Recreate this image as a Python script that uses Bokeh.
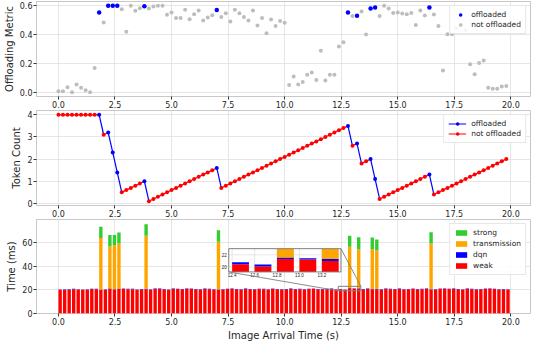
from bokeh.plotting import figure
from bokeh.layouts import column
from bokeh.models import (ColumnDataSource, Range1d, FixedTicker, PrintfTickFormatter,
                          Legend, LegendItem)
from bokeh.embed import file_html
from bokeh.resources import INLINE

# ---------------- data ----------------
times = [0.0, 0.2, 0.4, 0.6, 0.8, 1.0, 1.2, 1.4, 1.6, 1.8,
         2.0, 2.2, 2.4, 2.6, 2.8, 3.0, 3.2, 3.4, 3.6, 3.8,
         4.0, 4.2, 4.4, 4.6, 4.8, 5.0, 5.2, 5.4, 5.6, 5.8,
         6.0, 6.2, 6.4, 6.6, 6.8, 7.0, 7.2, 7.4, 7.6, 7.8,
         8.0, 8.2, 8.4, 8.6, 8.8, 9.0, 9.2, 9.4, 9.6, 9.8,
         10.0, 10.2, 10.4, 10.6, 10.8, 11.0, 11.2, 11.4, 11.6, 11.8,
         12.0, 12.2, 12.4, 12.6, 12.8, 13.0, 13.2, 13.4, 13.6, 13.8,
         14.0, 14.2, 14.4, 14.6, 14.8, 15.0, 15.2, 15.4, 15.6, 15.8,
         16.0, 16.2, 16.4, 16.6, 16.8, 17.0, 17.2, 17.4, 17.6, 17.8,
         18.0, 18.2, 18.4, 18.6, 18.8, 19.0, 19.2, 19.4, 19.6, 19.8]

offloaded_times = [1.8, 2.2, 2.4, 2.6, 3.8, 7.0, 12.8, 13.2, 13.8, 14.0, 16.4]

metric = [0.011, 0.011, 0.038, 0.004, 0.057, 0.034, 0.017, 0.004, 0.170, 0.553,
          0.483, 0.598, 0.598, 0.598, 0.574, 0.419, 0.598, 0.564, 0.581, 0.596,
          0.579, 0.594, 0.598, 0.598, 0.536, 0.553, 0.515, 0.515, 0.572, 0.506,
          0.540, 0.566, 0.498, 0.517, 0.534, 0.570, 0.521, 0.547, 0.491, 0.572,
          0.547, 0.521, 0.498, 0.566, 0.462, 0.515, 0.409, 0.504, 0.460, 0.494,
          0.481, 0.053, 0.111, 0.057, 0.074, 0.123, 0.140, 0.087, 0.289, 0.085,
          0.123, 0.123, 0.319, 0.347, 0.553, 0.528, 0.530, 0.560, 0.400, 0.579,
          0.587, 0.528, 0.598, 0.579, 0.549, 0.553, 0.545, 0.540, 0.549, 0.466,
          0.566, 0.532, 0.587, 0.538, 0.460, 0.153, 0.402, 0.402, 0.443, 0.468,
          0.430, 0.196, 0.128, 0.204, 0.221, 0.034, 0.028, 0.028, 0.043, 0.047]

tokens = [4.0, 4.0, 4.0, 4.0, 4.0, 4.0, 4.0, 4.0, 4.0, 4.0,
          3.1, 3.2, 2.3, 1.4, 0.5, 0.6, 0.7, 0.8, 0.9, 1.0,
          0.1, 0.2, 0.3, 0.4, 0.5, 0.6, 0.7, 0.8, 0.9, 1.0,
          1.1, 1.2, 1.3, 1.4, 1.5, 1.6, 0.7, 0.8, 0.9, 1.0,
          1.1, 1.2, 1.3, 1.4, 1.5, 1.6, 1.7, 1.8, 1.9, 2.0,
          2.1, 2.2, 2.3, 2.4, 2.5, 2.6, 2.7, 2.8, 2.9, 3.0,
          3.1, 3.2, 3.3, 3.4, 3.5, 2.6, 2.7, 1.8, 1.9, 2.0,
          1.1, 0.2, 0.3, 0.4, 0.5, 0.6, 0.7, 0.8, 0.9, 1.0,
          1.1, 1.2, 1.3, 0.4, 0.5, 0.6, 0.7, 0.8, 0.9, 1.0,
          1.1, 1.2, 1.3, 1.4, 1.5, 1.6, 1.7, 1.8, 1.9, 2.0]

weak_ms = [20.1, 20.0, 20.2, 20.6, 20.3, 20.1, 20.0, 20.7, 20.6, 20.1,
           20.0, 20.8, 20.2, 20.9, 20.9, 20.6, 20.5, 20.1, 20.3, 20.6,
           20.0, 20.8, 20.8, 20.4, 20.1, 20.8, 20.7, 20.3, 20.8, 20.9,
           20.4, 20.1, 20.8, 20.6, 20.2, 20.0, 20.1, 20.7, 20.8, 20.3,
           20.2, 20.8, 20.4, 20.2, 20.7, 20.6, 20.3, 20.9, 20.5, 20.2,
           20.4, 20.8, 20.3, 20.6, 20.2, 20.7, 20.9, 20.4, 20.3, 20.6,
           20.8, 20.3, 20.45, 20.1, 21.3, 21.25, 21.0, 20.4, 20.8, 20.5,
           20.3, 20.2, 20.8, 20.6, 20.4, 20.8, 20.2, 20.5, 20.9, 20.3,
           20.6, 20.8, 20.2, 20.1, 20.9, 20.8, 20.7, 20.8, 20.4, 20.3,
           20.8, 20.6, 20.2, 20.3, 20.9, 20.8, 20.7, 20.2, 20.4, 20.3]

dqn_ms = [0.30, 0.35, 0.30, 0.40, 0.30, 0.25, 0.30, 0.35, 0.40, 0.30,
          0.30, 0.35, 0.30, 0.30, 0.35, 0.30, 0.40, 0.30, 0.35, 0.30,
          0.35, 0.30, 0.40, 0.30, 0.30, 0.35, 0.30, 0.40, 0.30, 0.30,
          0.30, 0.35, 0.30, 0.30, 0.40, 0.30, 0.35, 0.30, 0.30, 0.35,
          0.40, 0.30, 0.30, 0.35, 0.30, 0.40, 0.30, 0.30, 0.35, 0.30,
          0.30, 0.35, 0.40, 0.30, 0.30, 0.35, 0.30, 0.30, 0.40, 0.30,
          0.35, 0.30, 0.35, 0.30, 0.25, 0.20, 0.30, 0.35, 0.30, 0.30,
          0.40, 0.30, 0.35, 0.30, 0.30, 0.35, 0.40, 0.30, 0.30, 0.35,
          0.30, 0.30, 0.35, 0.40, 0.30, 0.30, 0.35, 0.30, 0.40, 0.30,
          0.35, 0.30, 0.30, 0.40, 0.30, 0.35, 0.30, 0.30, 0.35, 0.30]

# only offloaded images have transmission + strong-model time (same order as offloaded_times)
transmission_ms = [43.5, 35.6, 37.4, 38.0, 45.0, 40.5, 34.9, 33.0, 33.8, 32.7, 38.7]
strong_ms = [9.5, 9.7, 8.5, 9.3, 9.6, 9.8, 9.3, 10.3, 9.8, 9.3, 9.6]

x_ticks = [0.0, 2.5, 5.0, 7.5, 10.0, 12.5, 15.0, 17.5, 20.0]
metric_ticks = [0.0, 0.2, 0.4, 0.6]
token_ticks = [0, 1, 2, 3, 4]
time_ticks = [0, 20, 40, 60]
inset_x_ticks = [12.4, 12.6, 12.8, 13.0, 13.2]
inset_y_ticks = [20, 22]

# ---------------- derived ----------------
n = len(times)
off_set = set(offloaded_times)
is_off = [t in off_set for t in times]
trans_full = [0.0] * n
strong_full = [0.0] * n
for t, tr, st in zip(offloaded_times, transmission_ms, strong_ms):
    i = times.index(t)
    trans_full[i] = tr
    strong_full[i] = st

FONT = "DejaVu Sans"
TXT = "#262626"
BAR_W = 0.15
COL_RED = "#ff0000"
COL_BLUE = "#0000ff"
COL_ORANGE = "#ffa500"
COL_GREEN = "#32cd32"
COL_GRAY = "#bdbdbd"

x_range = Range1d(-0.97, 20.87)


def make_fig(height, top, bottom, y_range, yticks, yfmt, ylabel):
    p = figure(width=532, height=height, x_range=x_range, y_range=y_range,
               output_backend="svg", toolbar_location=None,
               min_border_left=30, min_border_right=2,
               min_border_top=top, min_border_bottom=bottom)
    p.outline_line_color = "#c8c8c8"
    p.outline_line_width = 1
    p.grid.grid_line_color = "#e0e0e0"
    p.grid.grid_line_width = 0.8
    p.xaxis.ticker = FixedTicker(ticks=x_ticks)
    p.xgrid.ticker = FixedTicker(ticks=x_ticks)
    p.xaxis.formatter = PrintfTickFormatter(format="%.1f")
    p.yaxis.ticker = FixedTicker(ticks=yticks)
    p.ygrid.ticker = FixedTicker(ticks=yticks)
    if yfmt:
        p.yaxis.formatter = PrintfTickFormatter(format=yfmt)
    for ax in p.axis:
        ax.axis_line_color = None
        ax.major_tick_line_color = "#333333"
        ax.major_tick_out = 3
        ax.major_tick_in = 0
        ax.minor_tick_line_color = None
        ax.major_label_standoff = 1
        ax.major_label_text_font = FONT
        ax.major_label_text_font_size = "8px"
        ax.major_label_text_color = TXT
        ax.axis_label_text_font = FONT
        ax.axis_label_text_font_size = "10px"
        ax.axis_label_text_font_style = "normal"
        ax.axis_label_text_color = TXT
        ax.axis_label_standoff = 2
    p.yaxis.axis_label = ylabel
    return p


def style_legend(lg, gw, gh):
    lg.location = "top_right"
    lg.margin = 4
    lg.padding = 4
    lg.spacing = 1
    lg.glyph_width = gw
    lg.glyph_height = gh
    lg.label_height = gh
    lg.label_standoff = 5
    lg.label_text_font = FONT
    lg.label_text_font_size = "7.5px"
    lg.label_text_color = TXT
    lg.border_line_color = "#d0d0d0"
    lg.border_line_width = 1
    lg.background_fill_alpha = 0.85


# ---------------- panel 1: offloading metric ----------------
p1 = make_fig(110, 1, 13, Range1d(-0.026, 0.628), metric_ticks, "%.1f", "Offloading Metric")
src_off = ColumnDataSource(dict(x=[t for t, o in zip(times, is_off) if o],
                                y=[m for m, o in zip(metric, is_off) if o]))
src_not = ColumnDataSource(dict(x=[t for t, o in zip(times, is_off) if not o],
                                y=[m for m, o in zip(metric, is_off) if not o]))
r_not = p1.scatter("x", "y", source=src_not, size=4, color=COL_GRAY, line_color=None)
r_off = p1.scatter("x", "y", source=src_off, size=4.5, color=COL_BLUE, line_color=None)
lg1 = Legend(items=[LegendItem(label="offloaded", renderers=[r_off]),
                    LegendItem(label="not offloaded", renderers=[r_not])])
style_legend(lg1, 12, 9)
p1.add_layout(lg1)

# ---------------- panel 2: token count ----------------
p2 = make_fig(109, 0, 13, Range1d(-0.095, 4.195), token_ticks, None, "Token Count")
seg_b = dict(x0=[], y0=[], x1=[], y1=[])
seg_r = dict(x0=[], y0=[], x1=[], y1=[])
for i in range(n - 1):
    d = seg_b if is_off[i] else seg_r
    d["x0"].append(times[i]); d["y0"].append(tokens[i])
    d["x1"].append(times[i + 1]); d["y1"].append(tokens[i + 1])
r_seg_r = p2.segment("x0", "y0", "x1", "y1", source=ColumnDataSource(seg_r),
                     line_color=COL_RED, line_width=1.2)
r_seg_b = p2.segment("x0", "y0", "x1", "y1", source=ColumnDataSource(seg_b),
                     line_color=COL_BLUE, line_width=1.2)
tsrc_off = ColumnDataSource(dict(x=[t for t, o in zip(times, is_off) if o],
                                 y=[v for v, o in zip(tokens, is_off) if o]))
tsrc_not = ColumnDataSource(dict(x=[t for t, o in zip(times, is_off) if not o],
                                 y=[v for v, o in zip(tokens, is_off) if not o]))
r_tn = p2.scatter("x", "y", source=tsrc_not, size=4, color=COL_RED, line_color=None)
r_to = p2.scatter("x", "y", source=tsrc_off, size=4, color=COL_BLUE, line_color=None)
lg2 = Legend(items=[LegendItem(label="offloaded", renderers=[r_seg_b, r_to]),
                    LegendItem(label="not offloaded", renderers=[r_seg_r, r_tn])])
style_legend(lg2, 18, 9)
p2.add_layout(lg2)

# ---------------- panel 3: time breakdown ----------------
p3 = make_fig(124, 0, 27, Range1d(0, 79.6), time_ticks, None, "Time (ms)")
p3.xaxis.axis_label = "Image Arrival Time (s)"
bsrc = ColumnDataSource(dict(xc=[t + BAR_W / 2 for t in times], weak=weak_ms, dqn=dqn_ms,
                             transmission=trans_full, strong=strong_full))
rs = p3.vbar_stack(["weak", "dqn", "transmission", "strong"], x="xc", width=BAR_W,
                   color=[COL_RED, COL_BLUE, COL_ORANGE, COL_GREEN], line_color=None,
                   source=bsrc)
lg3 = Legend(items=[LegendItem(label="strong", renderers=[rs[3]]),
                    LegendItem(label="transmission", renderers=[rs[2]]),
                    LegendItem(label="dqn", renderers=[rs[1]]),
                    LegendItem(label="weak", renderers=[rs[0]])])
style_legend(lg3, 14, 7)
lg3.spacing = 2
p3.add_layout(lg3)

# ---------------- inset (zoom on 12.4 - 13.2 s) ----------------
ix0, ix1 = 12.37, 13.37
iy0, iy1 = 19.2, 23.0
tx0, tx1 = 7.53, 12.49     # inset box location in main-axis data units
ty0, ty1 = 35.2, 54.9

p3.quad(left=[tx0], right=[tx1], bottom=[ty0], top=[ty1], fill_color="white", line_color=None)
sub = p3.subplot(x_source=Range1d(ix0, ix1), y_source=Range1d(iy0, iy1),
                 x_target=Range1d(tx0, tx1), y_target=Range1d(ty0, ty1))
sub.segment(x0=inset_x_ticks, y0=[iy0] * len(inset_x_ticks), x1=inset_x_ticks,
            y1=[iy1] * len(inset_x_ticks), line_color="#e0e0e0", line_width=0.8)
sub.segment(x0=[ix0] * len(inset_y_ticks), y0=inset_y_ticks, x1=[ix1] * len(inset_y_ticks),
            y1=inset_y_ticks, line_color="#e0e0e0", line_width=0.8)

idx = [i for i, t in enumerate(times) if ix0 <= t <= ix1]
layers = [weak_ms, dqn_ms, trans_full, strong_full]
colors = [COL_RED, COL_BLUE, COL_ORANGE, COL_GREEN]
base = [0.0] * len(idx)
for vals, col in zip(layers, colors):
    lefts, rights, bots, tops = [], [], [], []
    for k, i in enumerate(idx):
        b = base[k]
        tp = b + vals[i]
        base[k] = tp
        bb, tt = max(b, iy0), min(tp, iy1)
        if tt > bb:
            lefts.append(times[i]); rights.append(times[i] + BAR_W)
            bots.append(bb); tops.append(tt)
    if lefts:
        sub.quad(left=lefts, right=rights, bottom=bots, top=tops, fill_color=col, line_color=None)

sub.text(x=inset_x_ticks, y=[iy0] * len(inset_x_ticks), text=[f"{v:.1f}" for v in inset_x_ticks],
         text_align="center", text_baseline="top", y_offset=1.5,
         text_font_size="4.5px", text_color=TXT)
sub.text(x=[ix0] * len(inset_y_ticks), y=inset_y_ticks, text=[str(v) for v in inset_y_ticks],
         text_align="right", text_baseline="middle", x_offset=-2,
         text_font_size="4.5px", text_color=TXT)

# inset frame, zoom rectangle and connectors
p3.quad(left=[tx0], right=[tx1], bottom=[ty0], top=[ty1], fill_color=None,
        line_color="#7f7f7f", line_width=1)
p3.quad(left=[ix0], right=[ix1], bottom=[iy0], top=[iy1], fill_color=None,
        line_color="#7f7f7f", line_width=1)
p3.segment(x0=[tx0, tx1], y0=[ty0, ty1], x1=[ix0, ix1], y1=[iy0, iy1],
           line_color="#7f7f7f", line_width=0.9)

layout = column(p1, p2, p3)
open("out.html", "w").write(file_html(layout, INLINE))
